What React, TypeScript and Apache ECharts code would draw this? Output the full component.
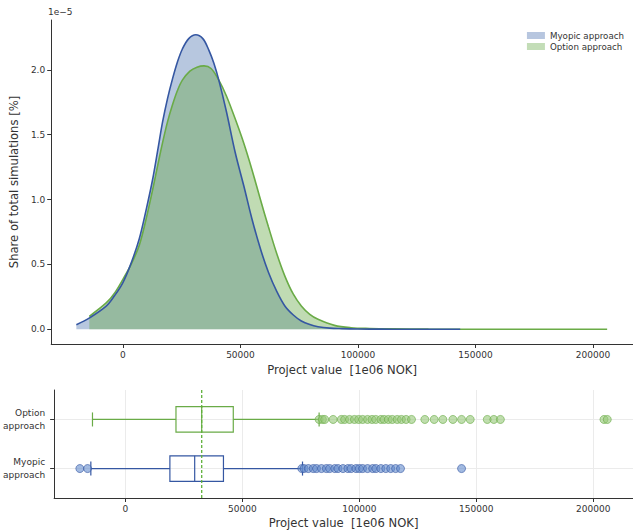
import React, { useEffect, useRef } from "react";
import * as echarts from "echarts";

// ---- data (project value in 1e06 NOK, density in units of 1e-5) ----
const myopicX = [-19800, -14000, -7000, -3500, 0, 3500, 7000, 10000, 12700, 15000, 16900, 19000, 21100, 23200, 25300, 28000, 31000, 34000, 36600, 38700, 40800, 44000, 47800, 51500, 54900, 58500, 61900, 65500, 68900, 72500, 75900, 79500, 83000, 88000, 93000, 100000, 110000, 120000, 143500];
const myopicDensity = [0.035, 0.09, 0.18, 0.26, 0.36, 0.51, 0.7, 0.93, 1.16, 1.4, 1.6, 1.78, 1.93, 2.06, 2.16, 2.24, 2.27, 2.24, 2.15, 2.05, 1.92, 1.68, 1.36, 1.1, 0.85, 0.62, 0.44, 0.29, 0.18, 0.11, 0.064, 0.036, 0.02, 0.009, 0.005, 0.002, 0.001, 0.0005, 0.0];

const optionX = [-14300, -7000, -3500, 0, 3500, 7000, 10000, 12700, 15000, 16900, 19000, 21100, 23200, 25300, 28500, 31500, 34500, 37500, 40800, 44000, 47800, 51500, 54900, 58500, 61900, 65500, 68900, 72500, 75900, 79500, 83000, 90000, 97000, 105000, 115000, 130000, 160000, 206000];
const optionDensity = [0.1, 0.205, 0.28, 0.385, 0.5, 0.65, 0.86, 1.08, 1.28, 1.44, 1.6, 1.73, 1.84, 1.92, 1.99, 2.02, 2.03, 2.01, 1.92, 1.8, 1.62, 1.43, 1.23, 1.0, 0.79, 0.58, 0.41, 0.27, 0.18, 0.115, 0.077, 0.03, 0.012, 0.006, 0.003, 0.001, 0.0003, 0.0];

const categories = ["Myopic\napproach", "Option\napproach"];
// [min whisker, Q1, median, Q3, max whisker]
const myopicBox = [-14800, 19000, 29600, 41900, 75700];
const optionBox = [-14100, 21600, 32600, 46100, 82800];

const myopicOutliers = [-19500, -16200, 75400, 76400, 78200, 80300, 81700, 83800, 85900, 87300, 89500, 90900, 93000, 95100, 96500, 98600, 100000, 101400, 103500, 105700, 107100, 109200, 111300, 113400, 115500, 117600, 143700];
const optionOutliers = [82800, 84200, 85200, 88800, 92300, 93700, 95800, 97900, 99700, 101400, 103500, 105400, 107000, 109200, 110600, 112400, 114100, 116200, 118000, 120000, 122300, 128000, 132000, 135700, 140000, 143700, 147400, 154700, 157500, 160300, 204600, 206000];

const referenceLine = 32600;

const xTicks = [0, 50000, 100000, 150000, 200000];
const yTicks = [0, 0.5, 1.0, 1.5, 2.0];

// ---- styles ----
const FONT = "DejaVu Sans";
const BLUE = "#3557a2";
const GREEN = "#6aab47";
const BLUE_FILL = "rgba(76,114,176,0.40)";
const GREEN_FILL = "rgba(106,170,74,0.42)";
const AXIS = "#333333";
const GRIDC = "#ebebeb";
const BOX_Y_MIN = 0.4;
const BOX_Y_MAX = 2.6;

function boxRenderer(color: string) {
  return (params: any, api: any) => {
    const pos = api.value(0);
    const pt = (v: number) => api.coord([v, pos]);
    const lo = pt(api.value(1));
    const q1 = pt(api.value(2));
    const med = pt(api.value(3));
    const q3 = pt(api.value(4));
    const hi = pt(api.value(5));
    const half = api.size([0, 0.26])[1];
    const cap = half * 0.55;
    const y = lo[1];
    const st = { stroke: color, lineWidth: 1.2, fill: "none" };
    return {
      type: "group",
      children: [
        { type: "rect", shape: { x: q1[0], y: y - half, width: q3[0] - q1[0], height: 2 * half }, style: st },
        { type: "line", shape: { x1: med[0], y1: y - half, x2: med[0], y2: y + half }, style: st },
        { type: "line", shape: { x1: lo[0], y1: y, x2: q1[0], y2: y }, style: st },
        { type: "line", shape: { x1: q3[0], y1: y, x2: hi[0], y2: y }, style: st },
        { type: "line", shape: { x1: lo[0], y1: y - cap, x2: lo[0], y2: y + cap }, style: st },
        { type: "line", shape: { x1: hi[0], y1: y - cap, x2: hi[0], y2: y + cap }, style: st },
      ],
    };
  };
}

function xAxisCfg(gridIndex: number, grid: boolean) {
  return {
    gridIndex,
    type: "value",
    min: -30500,
    max: 217000,
    axisLine: { show: true, onZero: false, lineStyle: { color: AXIS, width: 1 } },
    axisTick: { show: true, length: 4, customValues: xTicks, lineStyle: { color: AXIS } },
    axisLabel: {
      customValues: xTicks,
      fontSize: 9,
      fontFamily: FONT,
      color: AXIS,
      margin: 6,
      formatter: (v: number) => String(v),
    },
    splitLine: { show: grid, lineStyle: { color: GRIDC, width: 1 } },
    name: "Project value  [1e06 NOK]",
    nameLocation: "middle",
    nameGap: 19,
    nameTextStyle: { fontSize: 11.6, fontFamily: FONT, color: AXIS },
  };
}

const myopicData = myopicX.map((x, i) => [x, myopicDensity[i]]);
const optionData = optionX.map((x, i) => [x, optionDensity[i]]);

const option = {
  animation: false,
  textStyle: { fontFamily: FONT },
  grid: [
    { left: 48, top: 20, width: 585, height: 324 },
    { left: 48, top: 390, width: 585, height: 108 },
  ],
  legend: {
    orient: "vertical",
    right: 4,
    top: 26,
    itemWidth: 18,
    itemHeight: 7,
    itemGap: 2,
    textStyle: { fontSize: 8.7, fontFamily: FONT, color: AXIS },
    data: [
      { name: "Myopic approach", icon: "rect", itemStyle: { color: "#b7c6df", borderWidth: 0 } },
      { name: "Option approach", icon: "rect", itemStyle: { color: "#c3ddb7", borderWidth: 0 } },
    ],
  },
  xAxis: [xAxisCfg(0, false), xAxisCfg(1, true)],
  yAxis: [
    {
      gridIndex: 0,
      type: "value",
      min: -0.1135,
      max: 2.3835,
      axisLine: { show: true, onZero: false, lineStyle: { color: AXIS, width: 1 } },
      axisTick: { show: true, length: 4, customValues: yTicks, lineStyle: { color: AXIS } },
      axisLabel: {
        customValues: yTicks,
        fontSize: 9,
        fontFamily: FONT,
        color: AXIS,
        margin: 6,
        formatter: (v: number) => v.toFixed(1),
      },
      splitLine: { show: false },
      name: "Share of total simulations [%]",
      nameLocation: "middle",
      nameGap: 27,
      nameTextStyle: { fontSize: 11.6, fontFamily: FONT, color: AXIS },
    },
    {
      gridIndex: 1,
      type: "value",
      min: BOX_Y_MIN,
      max: BOX_Y_MAX,
      axisLine: { show: true, onZero: false, lineStyle: { color: AXIS, width: 1 } },
      axisTick: { show: true, length: 4, customValues: [1, 2], lineStyle: { color: AXIS } },
      axisLabel: {
        customValues: [1, 2],
        fontSize: 9,
        fontFamily: FONT,
        color: AXIS,
        margin: 9,
        align: "right",
        lineHeight: 13,
        formatter: (v: number) => categories[Math.round(v) - 1] || "",
      },
      splitLine: { show: true, lineStyle: { color: GRIDC, width: 1 } },
    },
  ],
  graphic: [
    {
      type: "text",
      left: 48,
      top: 7,
      style: { text: "1e\u22125", fontSize: 9, fontFamily: FONT, fill: AXIS },
    },
  ],
  series: [
    {
      name: "Myopic approach",
      type: "line",
      xAxisIndex: 0,
      yAxisIndex: 0,
      data: myopicData,
      smooth: 0.35,
      showSymbol: false,
      lineStyle: { width: 0, opacity: 0 },
      itemStyle: { color: BLUE },
      areaStyle: { color: BLUE_FILL, opacity: 1 },
      z: 2,
    },
    {
      name: "Option approach",
      type: "line",
      xAxisIndex: 0,
      yAxisIndex: 0,
      data: optionData,
      smooth: 0.35,
      showSymbol: false,
      lineStyle: { width: 0, opacity: 0 },
      itemStyle: { color: GREEN },
      areaStyle: { color: GREEN_FILL, opacity: 1 },
      z: 3,
    },
    {
      name: "myopicLine",
      type: "line",
      xAxisIndex: 0,
      yAxisIndex: 0,
      data: myopicData,
      smooth: 0.35,
      showSymbol: false,
      lineStyle: { color: BLUE, width: 1.6 },
      z: 5,
    },
    {
      name: "optionLine",
      type: "line",
      xAxisIndex: 0,
      yAxisIndex: 0,
      data: optionData,
      smooth: 0.35,
      showSymbol: false,
      lineStyle: { color: GREEN, width: 1.6 },
      z: 4,
    },
    {
      name: "referenceLine",
      type: "line",
      xAxisIndex: 1,
      yAxisIndex: 1,
      data: [
        [referenceLine, BOX_Y_MIN],
        [referenceLine, BOX_Y_MAX],
      ],
      showSymbol: false,
      silent: true,
      lineStyle: { color: "#5fb03a", type: [3, 2], width: 1.3, opacity: 1 },
      itemStyle: { color: "#5fb03a" },
      z: 6,
    },
    {
      name: "myopicBox",
      type: "custom",
      xAxisIndex: 1,
      yAxisIndex: 1,
      renderItem: boxRenderer(BLUE),
      encode: { x: [1, 2, 3, 4, 5], y: 0 },
      data: [[1, ...myopicBox]],
      z: 3,
    },
    {
      name: "optionBox",
      type: "custom",
      xAxisIndex: 1,
      yAxisIndex: 1,
      renderItem: boxRenderer(GREEN),
      encode: { x: [1, 2, 3, 4, 5], y: 0 },
      data: [[2, ...optionBox]],
      z: 3,
    },
    {
      name: "myopicOutliers",
      type: "scatter",
      xAxisIndex: 1,
      yAxisIndex: 1,
      symbol: "circle",
      symbolSize: 8,
      data: myopicOutliers.map((v) => [v, 1]),
      itemStyle: { color: "rgba(100,140,205,0.75)", borderColor: BLUE, borderWidth: 0.8 },
      z: 4,
    },
    {
      name: "optionOutliers",
      type: "scatter",
      xAxisIndex: 1,
      yAxisIndex: 1,
      symbol: "circle",
      symbolSize: 8,
      data: optionOutliers.map((v) => [v, 2]),
      itemStyle: { color: "rgba(150,200,120,0.75)", borderColor: GREEN, borderWidth: 0.8 },
      z: 4,
    },
  ],
};

export default function App() {
  const ref = useRef<HTMLDivElement>(null);
  useEffect(() => {
    document.body.style.margin = "0";
    const chart = echarts.init(ref.current as HTMLDivElement, null, { renderer: "svg" });
    chart.setOption(option as any);
    return () => chart.dispose();
  }, []);
  return <div ref={ref} style={{ width: 633, height: 532 }} />;
}
